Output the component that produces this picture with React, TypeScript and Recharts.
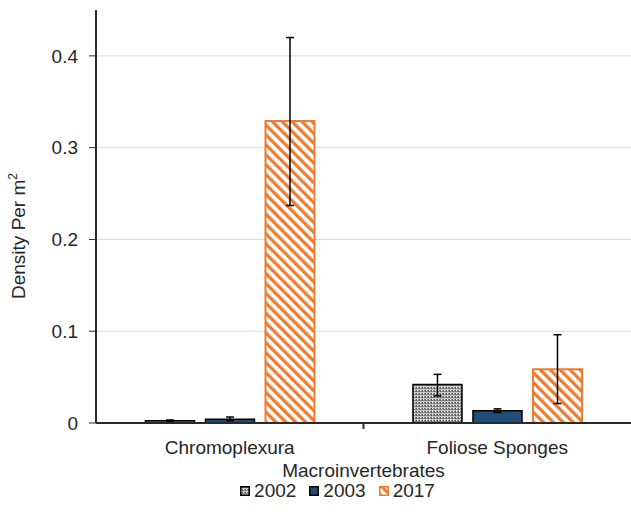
import { BarChart, Bar, XAxis, YAxis, CartesianGrid, ErrorBar } from "recharts";

const categories = ["Chromoplexura", "Foliose Sponges"];
const years = ["2002", "2003", "2017"];
const values2002 = [0.0025, 0.042];
const values2003 = [0.004, 0.0134];
const values2017 = [0.329, 0.0587];
// [minus, plus] error for each category
const err2002: [number, number][] = [[0.0008, 0.0008], [0.0125, 0.011]];
const err2003: [number, number][] = [[0.0015, 0.0025], [0.002, 0.002]];
const err2017: [number, number][] = [[0.092, 0.091], [0.0375, 0.0375]];
const yTicks = [0, 0.1, 0.2, 0.3, 0.4];

const data = categories.map((name, i) => ({
  name,
  y2002: values2002[i],
  y2003: values2003[i],
  y2017: values2017[i],
  e2002: err2002[i],
  e2003: err2003[i],
  e2017: err2017[i],
}));

const fills: Record<string, string> = {
  "2002": "url(#pat2002)",
  "2003": "#1f4e79",
  "2017": "url(#pat2017)",
};
const strokes: Record<string, string> = {
  "2002": "#000000",
  "2003": "#000000",
  "2017": "#ed7d31",
};

const FONT = "'Liberation Sans', Arial, sans-serif";
const AXIS = "#2a2a2a";
const TEXT = "#262626";

function CategoryTick(props: any) {
  const { x, y, payload } = props;
  const half = payload.offset ?? 0;
  return (
    <g>
      {payload.index > 0 && (
        <line x1={x - half} x2={x - half} y1={y - 8} y2={y - 2} stroke={AXIS} strokeWidth={2} />
      )}
      <text x={x} y={y + 23} textAnchor="middle" fill={TEXT} fontSize={19} fontFamily={FONT}>
        {payload.value}
      </text>
    </g>
  );
}

function YLabel() {
  return (
    <text
      transform="translate(25, 236) rotate(-90)"
      textAnchor="middle"
      fill={TEXT}
      fontSize={19}
      fontFamily={FONT}
    >
      Density Per m
      <tspan fontSize={12} dy={-8}>2</tspan>
    </text>
  );
}

export default function App() {
  return (
    <div style={{ position: "absolute", left: 0, top: 0, width: 631, height: 523, background: "#fff", fontFamily: FONT }}>
      <svg width={0} height={0} style={{ position: "absolute" }}>
        <defs>
          <pattern id="pat2002" width={3} height={3} patternUnits="userSpaceOnUse">
            <rect width={3} height={3} fill="#8a8a8a" />
            <rect x={0} y={0} width={1} height={1} fill="#ffffff" />
            <rect x={2} y={0} width={1} height={3} fill="#5a5a5a" />
            <rect x={0} y={2} width={3} height={1} fill="#c8c8c8" />
          </pattern>
          <pattern
            id="pat2017"
            width={7}
            height={7}
            patternUnits="userSpaceOnUse"
            patternTransform="rotate(-45)"
          >
            <rect width={7} height={7} fill="#ffffff" />
            <rect x={0} y={0} width={3.3} height={7} fill="#ed7d31" />
          </pattern>
        </defs>
      </svg>
      <BarChart
        width={631}
        height={523}
        data={data}
        margin={{ top: 10, right: 0, left: 0, bottom: 0 }}
        barCategoryGap="18.5%"
        barGap={11}
      >
        <CartesianGrid stroke="#d9d9d9" vertical={false} horizontalValues={[0.1, 0.2, 0.3, 0.4]} />
        <XAxis
          dataKey="name"
          height={100}
          axisLine={{ stroke: AXIS, strokeWidth: 2 }}
          tickLine={false}
          tick={<CategoryTick />}
          label={{
            value: "Macroinvertebrates",
            position: "insideTop",
            offset: 41,
            fill: TEXT,
            fontSize: 19,
            fontFamily: FONT,
          }}
        />
        <YAxis
          width={96}
          domain={[0, 0.45]}
          ticks={yTicks}
          interval={0}
          allowDataOverflow
          axisLine={{ stroke: AXIS, strokeWidth: 2 }}
          tickLine={{ stroke: AXIS, strokeWidth: 1 }}
          tickSize={7}
          tickMargin={11}
          tick={{ fill: TEXT, fontSize: 19, fontFamily: FONT }}
          label={<YLabel />}
        />
        {years.map((yr) => (
          <Bar
            key={yr}
            dataKey={`y${yr}`}
            fill={fills[yr]}
            stroke={strokes[yr]}
            strokeWidth={yr === "2017" ? 2 : 1.5}
            isAnimationActive={false}
          >
            <ErrorBar dataKey={`e${yr}`} width={4} stroke="#000" strokeWidth={1.5} direction="y" />
          </Bar>
        ))}
      </BarChart>
      <div
        style={{
          position: "absolute",
          top: 482,
          left: 0,
          width: 631,
          display: "flex",
          justifyContent: "center",
          paddingLeft: 44,
          boxSizing: "border-box",
          gap: 13,
          fontSize: 19,
          lineHeight: "17px",
          color: TEXT,
        }}
      >
        {years.map((yr) => (
          <div key={yr} style={{ display: "flex", alignItems: "center", gap: 4 }}>
            <svg width={10} height={10}>
              <rect
                x={0.75}
                y={0.75}
                width={8.5}
                height={8.5}
                fill={fills[yr]}
                stroke={strokes[yr]}
                strokeWidth={1.5}
              />
            </svg>
            <span>{yr}</span>
          </div>
        ))}
      </div>
    </div>
  );
}
